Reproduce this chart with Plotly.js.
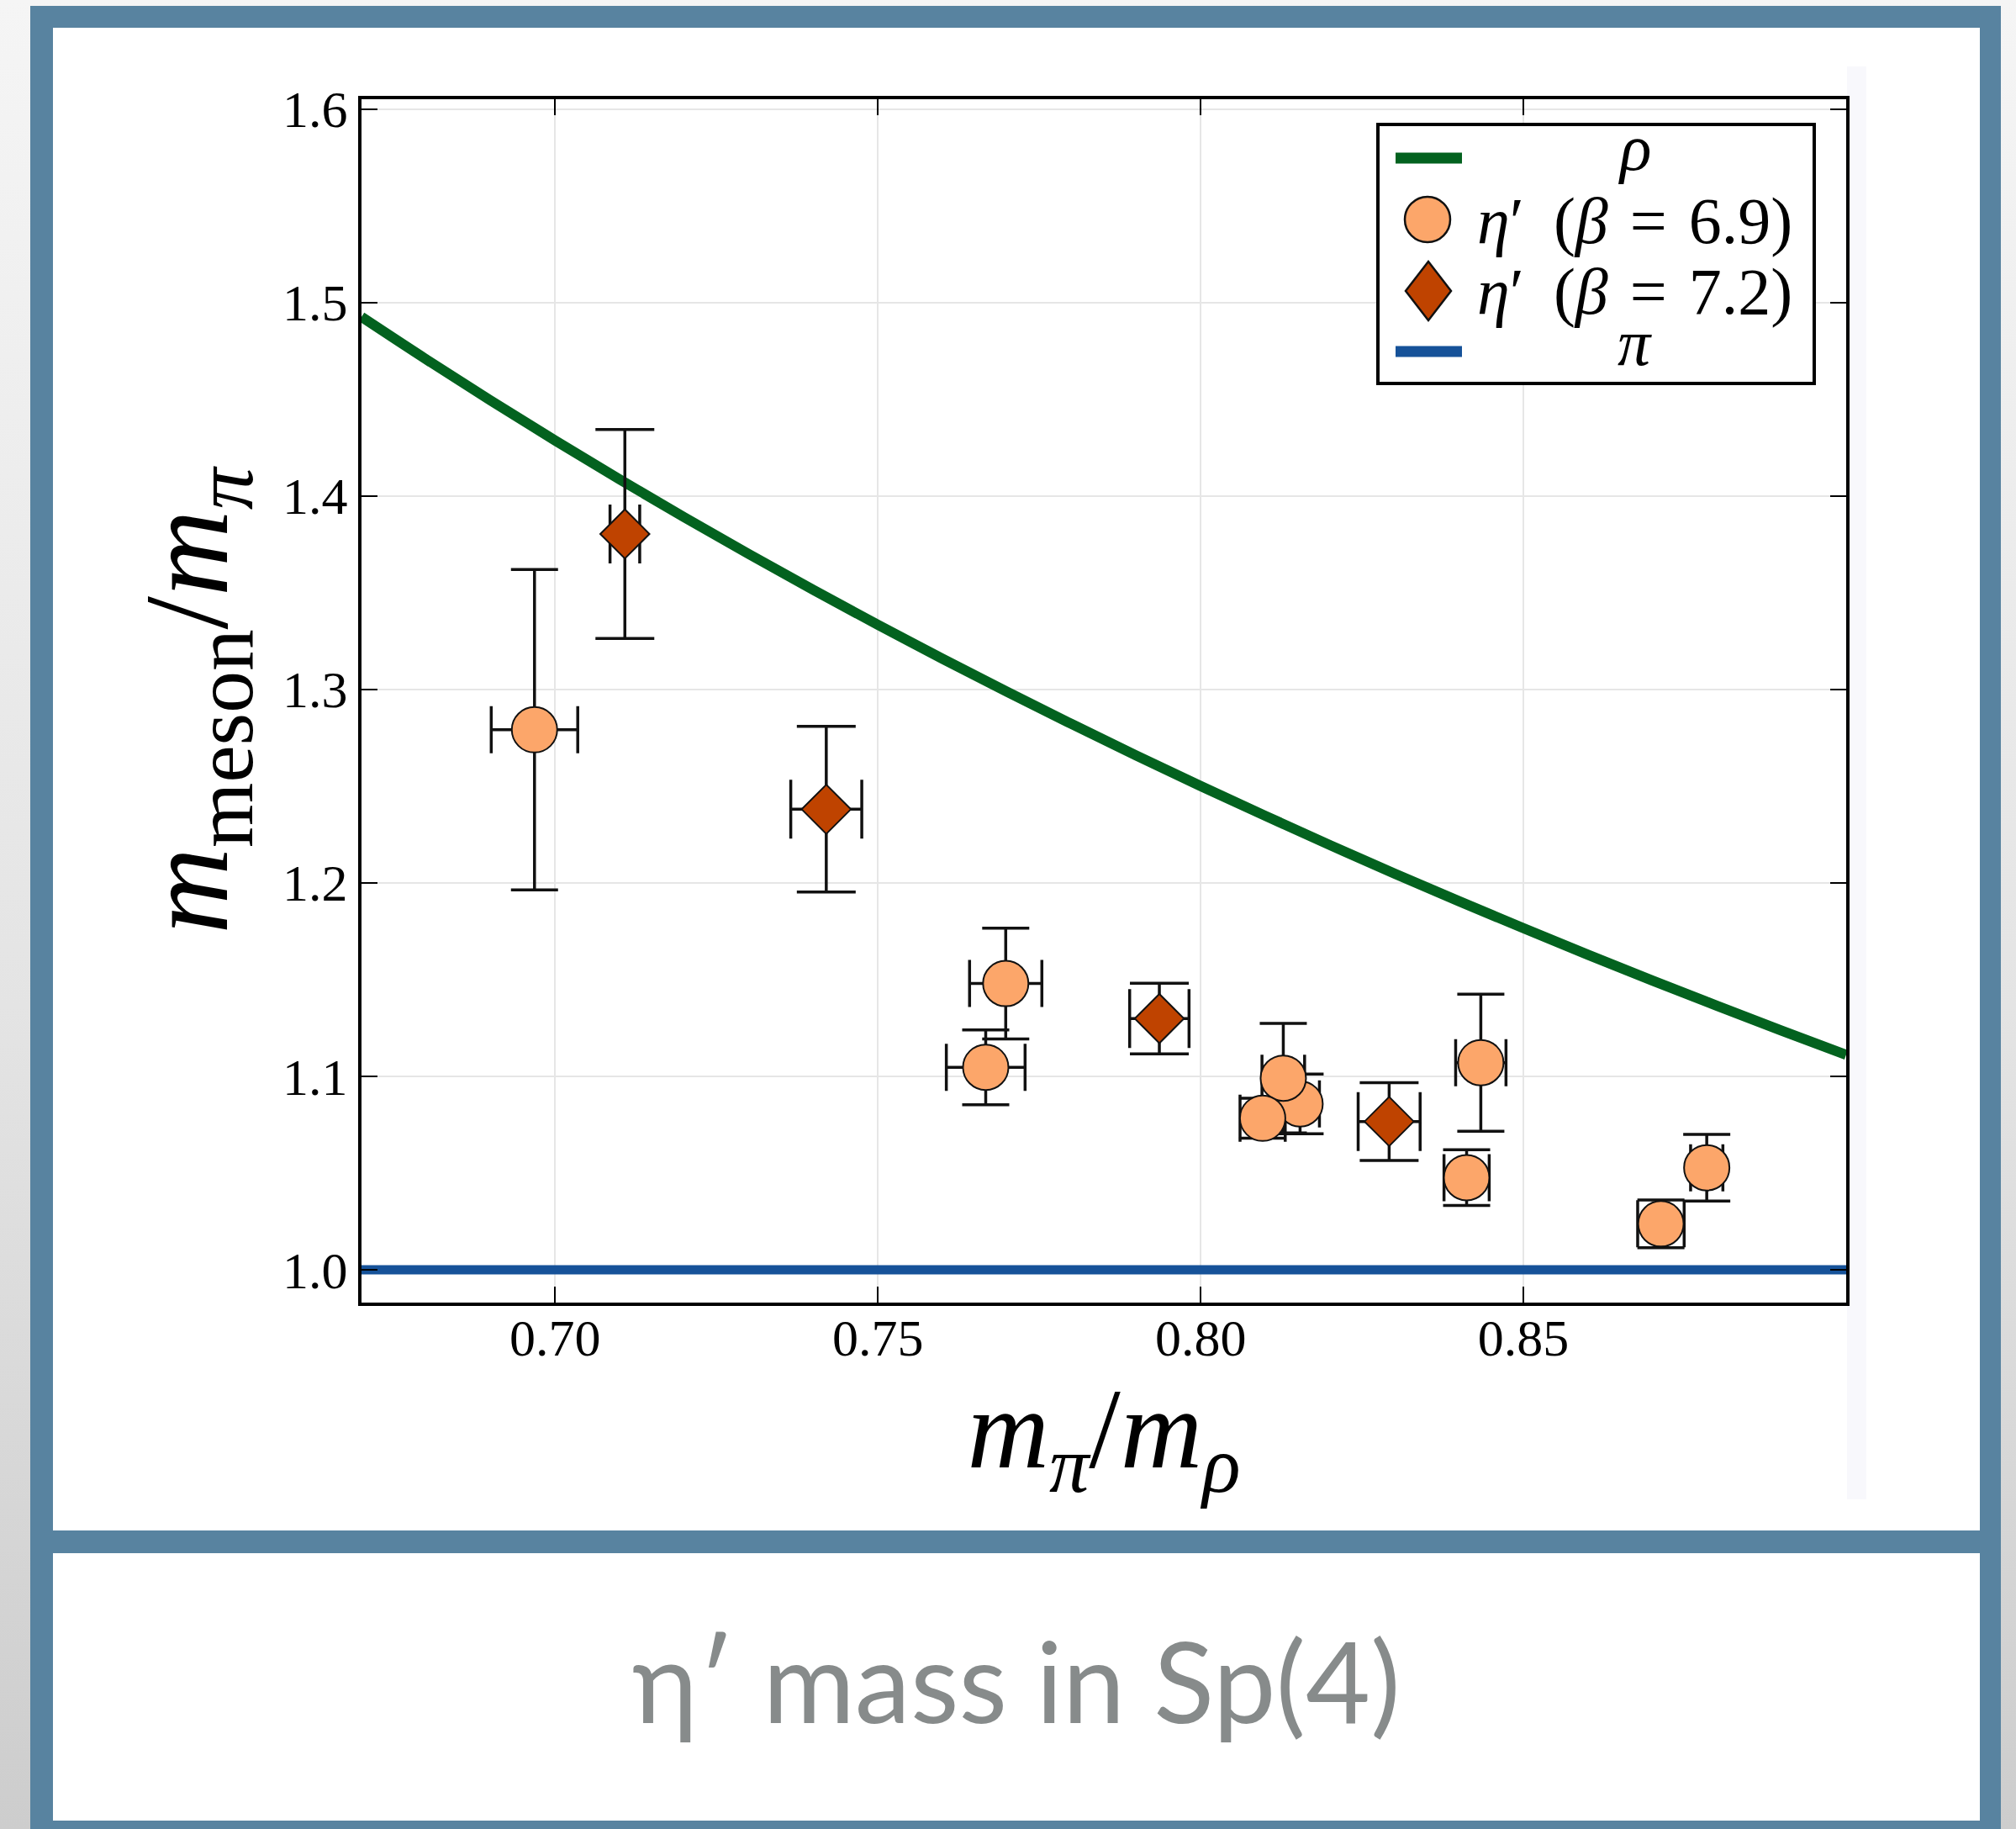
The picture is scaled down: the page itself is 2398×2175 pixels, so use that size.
<!DOCTYPE html>
<html>
<head>
<meta charset="utf-8">
<script src="https://cdn.plot.ly/plotly-3.0.1.min.js"></script>
<style>
  html, body { margin: 0; padding: 0; }
  body {
    width: 2398px; height: 2175px; position: relative; overflow: hidden;
    background: linear-gradient(to bottom, #f5f5f5 0%, #e4e4e4 55%, #cdcdcd 100%);
  }
  #frame { position: absolute; left: 36px; top: 7px; width: 2344px; height: 2200px; background: #5883a0; }
  .panel { position: absolute; left: 63px; width: 2292px; background: #ffffff; }
  #top-panel { top: 33px; height: 1787px; }
  #bottom-panel { top: 1847px; height: 318px; }
  #strip { position: absolute; left: 2197px; top: 79px; width: 23px; height: 1704px; background: #f8f8fc; }
  #caption {
    position: absolute; left: 63px; width: 2292px; top: 1918px;
    text-align: center; font-family: Lato, "Open Sans", sans-serif;
    font-size: 133px; line-height: 1.2; color: #878b8b;
  }
  #chart { position: absolute; left: 0; top: 0; width: 2398px; height: 2175px; }
</style>
</head>
<body>
<div id="frame"></div>
<div id="top-panel" class="panel"></div>
<div id="bottom-panel" class="panel"></div>
<div id="strip"></div>
<div id="caption">η′ mass in Sp(4)</div>
<div id="chart"></div>
<script>
// rho meson mass in units of the pion mass
const rhoX = [0.67, 0.68, 0.69, 0.70, 0.71, 0.72, 0.73, 0.74, 0.75, 0.76, 0.77, 0.78,
              0.79, 0.80, 0.81, 0.82, 0.83, 0.84, 0.85, 0.86, 0.87, 0.88, 0.89, 0.90];
const rhoY = [1.4925, 1.4706, 1.4493, 1.4286, 1.4085, 1.3889, 1.3699, 1.3514, 1.3333, 1.3158, 1.2987, 1.2821,
              1.2658, 1.2500, 1.2346, 1.2195, 1.2048, 1.1905, 1.1765, 1.1628, 1.1494, 1.1364, 1.1236, 1.1111];

// pion reference line
const piX = [0.67, 0.90];
const piY = [1.0, 1.0];

// eta' at beta = 6.9
const eta69X    = [0.6968, 0.7698, 0.7667, 0.8154, 0.8128, 0.8096, 0.8434, 0.8412, 0.8784, 0.8713];
const eta69Y    = [1.2791, 1.1479, 1.1046, 1.0857, 1.0990, 1.0783, 1.1070, 1.0476, 1.0527, 1.0237];
const eta69Xerr = [0.0067, 0.0056, 0.0061, 0.0030, 0.0033, 0.0035, 0.0039, 0.0035, 0.0025, 0.0036];
const eta69Yerr = [0.0828, 0.0286, 0.0193, 0.0154, 0.0283, 0.0103, 0.0354, 0.0144, 0.0172, 0.0123];

// eta' at beta = 7.2
const eta72X    = [0.7108, 0.7420, 0.7936, 0.8292];
const eta72Y    = [1.3803, 1.2380, 1.1298, 1.0766];
const eta72Xerr = [0.0023, 0.0055, 0.0046, 0.0048];
const eta72Yerr = [0.0540, 0.0428, 0.0183, 0.0201];

// axis ticks
const xTickVals = [0.70, 0.75, 0.80, 0.85];
const xTickText = ["0.70", "0.75", "0.80", "0.85"];
const yTickVals = [1.0, 1.1, 1.2, 1.3, 1.4, 1.5, 1.6];
const yTickText = ["1.0", "1.1", "1.2", "1.3", "1.4", "1.5", "1.6"];

// legend labels
const legendLabels = [
  "<i>ρ</i>",
  "<i>η</i>′ \u2009(<i>β</i>\u200a = \u200a6.9)",
  "<i>η</i>′ \u2009(<i>β</i>\u200a = \u200a7.2)",
  "<i>π</i>"
];

const GREEN = "#03621f";
const BLUE = "#165299";
const ORANGE = "#fca66a";
const RUST = "#bf4300";
const INK = "#111111";
const SERIF = "Liberation Serif, DejaVu Serif, serif";

// plot area in page pixels, used to place the hand-built legend
const PLOT = { l: 430, t: 118, w: 1766, h: 1431 };
const W = 2398, H = 2175;
const px = v => (v - PLOT.l) / PLOT.w;
const py = v => 1 - (v - PLOT.t) / PLOT.h;

const errStyle = (arr, w) => ({ type: "data", array: arr, visible: true, color: INK, thickness: 3.5, width: w });

const traces = [
  { x: rhoX, y: rhoY, mode: "lines", name: "ρ", line: { color: GREEN, width: 12, shape: "spline" }, hoverinfo: "skip" },
  { x: piX, y: piY, mode: "lines", name: "π", line: { color: BLUE, width: 11 }, hoverinfo: "skip" },
  {
    x: eta69X, y: eta69Y, mode: "markers", name: "η′ (β = 6.9)",
    marker: { symbol: "circle", size: 54, color: ORANGE, line: { color: INK, width: 2 } },
    error_x: errStyle(eta69Xerr, 28), error_y: errStyle(eta69Yerr, 28), cliponaxis: false
  },
  {
    x: eta72X, y: eta72Y, mode: "markers", name: "η′ (β = 7.2)",
    marker: { symbol: "diamond", size: 45, color: RUST, line: { color: INK, width: 2 } },
    error_x: errStyle(eta72Xerr, 35), error_y: errStyle(eta72Yerr, 35), cliponaxis: false
  }
];

const axisCommon = {
  ticks: "inside", ticklen: 19, tickwidth: 2, tickcolor: "#000",
  showline: true, linewidth: 4, linecolor: "#000", mirror: "ticks",
  showgrid: true, gridcolor: "#e6e6e6", gridwidth: 2, zeroline: false,
  tickfont: { family: SERIF, size: 62, color: "#000" },
  automargin: false, fixedrange: true
};

// legend: framed box, symbols and centred labels
const rowY = [188, 261, 346, 418];
const labelY = [175, 262, 347, 407];
const shapes = [
  { type: "rect", xref: "paper", yref: "paper", x0: px(1639), x1: px(2158), y0: py(148), y1: py(456),
    line: { color: "#000", width: 4 }, fillcolor: "#ffffff", layer: "above" },
  { type: "line", xref: "paper", yref: "paper", x0: px(1660), x1: px(1739), y0: py(rowY[0]), y1: py(rowY[0]),
    line: { color: GREEN, width: 13 }, layer: "above" },
  { type: "circle", xref: "paper", yref: "paper", xsizemode: "pixel", ysizemode: "pixel",
    xanchor: px(1698), yanchor: py(rowY[1]), x0: -27, x1: 27, y0: -27, y1: 27,
    fillcolor: ORANGE, line: { color: INK, width: 2.5 }, layer: "above" },
  { type: "path", xref: "paper", yref: "paper", xsizemode: "pixel", ysizemode: "pixel",
    xanchor: px(1699), yanchor: py(rowY[2]), path: "M0,-35L27,0L0,35L-27,0Z",
    fillcolor: RUST, line: { color: INK, width: 2.5 }, layer: "above" },
  { type: "line", xref: "paper", yref: "paper", x0: px(1660), x1: px(1739), y0: py(rowY[3]), y1: py(rowY[3]),
    line: { color: BLUE, width: 13 }, layer: "above" }
];
const annotations = legendLabels.map((t, i) => ({
  text: t, xref: "paper", yref: "paper", x: px(1944), y: py(labelY[i]),
  xanchor: "center", yanchor: "middle", showarrow: false,
  font: { family: SERIF, size: 78, color: "#000" }
}));

const layout = {
  width: W, height: H,
  margin: { l: PLOT.l, r: W - PLOT.l - PLOT.w, t: PLOT.t, b: H - PLOT.t - PLOT.h, pad: 0 },
  paper_bgcolor: "rgba(0,0,0,0)", plot_bgcolor: "rgba(0,0,0,0)",
  showlegend: false,
  xaxis: Object.assign({}, axisCommon, {
    range: [0.67, 0.90], tickvals: xTickVals, ticktext: xTickText, ticklabelstandoff: -15,
    title: { text: "<i>m</i><sub><i>π</i></sub>/<i>m</i><sub><i>ρ</i></sub>",
             font: { family: SERIF, size: 135, color: "#000" }, standoff: 0 }
  }),
  yaxis: Object.assign({}, axisCommon, {
    range: [0.983, 1.605], tickvals: yTickVals, ticktext: yTickText, ticklabelstandoff: 0,
    title: { text: "<i>m</i><sub>meson</sub>/<i>m</i><sub><i>π</i></sub>",
             font: { family: SERIF, size: 142, color: "#000" }, standoff: 18 }
  }),
  shapes: shapes,
  annotations: annotations
};

Plotly.newPlot("chart", traces, layout, { displayModeBar: false, staticPlot: true });
</script>
</body>
</html>
